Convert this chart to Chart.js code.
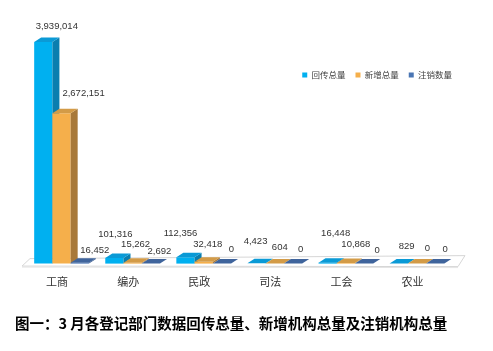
<!DOCTYPE html>
<html>
<head>
<meta charset="utf-8">
<script src="https://cdn.jsdelivr.net/npm/chart.js@4/dist/chart.umd.min.js"></script>
<style>
  html, body { margin: 0; padding: 0; background: #fff; }
</style>
</head>
<body>
<canvas id="chart" width="493" height="351"></canvas>
<script>
// ---------- data ----------
const categories = ['工商', '编办', '民政', '司法', '工会', '农业'];
const seriesNames = ['回传总量', '新增总量', '注销数量'];
const returnedTotal = [3939014, 101316, 112356, 4423, 16448, 829];
const addedTotal = [2672151, 15262, 32418, 604, 10868, 0];
const cancelledTotal = [16452, 2692, 0, 0, 0, 0];
const caption = '图一：3 月各登记部门数据回传总量、新增机构总量及注销机构总量';

// colours: front / top / side of each 3D bar
const faces = [
  { front: '#00B0F0', top: '#0A9AD6', side: '#0A7EAF' },
  { front: '#F5AF4B', top: '#D39B47', side: '#A8793A' },
  { front: '#4A76B4', top: '#3F649C', side: '#2F5288' },
];

// value label nudges (px, relative to bar centre / top)
const labelNudge = [
  [[13.5, -16], [1, -24], [-5, -24], [-1, -22], [8, -29], [8, -17]],
  [[22, -20], [3, -18], [4, -17], [5, -16.5], [10, -19], [10.5, -15]],
  [[15, -12], [8.5, -12], [9.5, -14], [7.5, -14], [13, -13], [10, -14]],
];

const DEPTH_X = 7, DEPTH_Y = -4.5;

function poly(ctx, pts, fill) {
  ctx.beginPath();
  ctx.moveTo(pts[0][0], pts[0][1]);
  for (let k = 1; k < pts.length; k++) ctx.lineTo(pts[k][0], pts[k][1]);
  ctx.closePath();
  ctx.fillStyle = fill;
  ctx.fill();
}

// ---------- 3D bars, floor and value labels ----------
const bars3d = {
  id: 'bars3d',
  beforeDatasetsDraw(chart) {
    const { ctx, chartArea: a } = chart;
    const base = chart.scales.y.getPixelForValue(0);
    ctx.save();

    // floor
    ctx.beginPath();
    ctx.moveTo(a.left - 4, base + 2.5);
    ctx.lineTo(a.right + 5.5, base + 3);
    ctx.lineTo(a.right + 12.5, base - 8);
    ctx.lineTo(a.left + 4, base - 5);
    ctx.closePath();
    ctx.fillStyle = '#ffffff';
    ctx.fill();
    ctx.strokeStyle = '#d6d6d6';
    ctx.lineWidth = 1;
    ctx.stroke();
    ctx.beginPath();
    ctx.moveTo(a.left - 4, base + 3.5);
    ctx.lineTo(a.right + 5.5, base + 4);
    ctx.strokeStyle = '#e4e4e4';
    ctx.stroke();

    categories.forEach((cat, i) => {
      chart.data.datasets.forEach((ds, d) => {
        const el = chart.getDatasetMeta(d).data[i];
        const f = faces[d];
        const x0 = el.x - el.width / 2, x1 = el.x + el.width / 2;
        const top = el.y, bot = el.base;
        if (bot - top > 0.3) poly(ctx, [[x0, top], [x1, top], [x1, bot], [x0, bot]], f.front);
        poly(ctx, [[x1, top], [x1 + DEPTH_X, top + DEPTH_Y], [x1 + DEPTH_X, bot + DEPTH_Y], [x1, bot]], f.side);
        poly(ctx, [[x0, top], [x1, top], [x1 + DEPTH_X, top + DEPTH_Y], [x0 + DEPTH_X, top + DEPTH_Y]], f.top);
      });
    });

    ctx.font = "9.5px 'Liberation Sans'";
    ctx.fillStyle = '#333333';
    ctx.textAlign = 'center';
    ctx.textBaseline = 'middle';
    chart.data.datasets.forEach((ds, d) => {
      chart.getDatasetMeta(d).data.forEach((el, i) => {
        const n = labelNudge[d][i];
        ctx.fillText(Number(ds.data[i]).toLocaleString('en-US'), el.x + n[0], el.y + n[1]);
      });
    });

    ctx.restore();
    return false;
  },
};

new Chart(document.getElementById('chart'), {
  type: 'bar',
  data: {
    labels: categories,
    datasets: [returnedTotal, addedTotal, cancelledTotal].map((vals, d) => ({
      label: seriesNames[d],
      data: vals,
      backgroundColor: faces[d].front,
      borderWidth: 0,
      categoryPercentage: 0.77,
      barPercentage: 1,
    })),
  },
  options: {
    responsive: false,
    animation: false,
    devicePixelRatio: 1,
    layout: { padding: { top: 60.75, left: 15, right: 31, bottom: 0 } },
    plugins: {
      legend: {
        position: 'top',
        align: 'end',
        labels: {
          boxWidth: 5,
          boxHeight: 5,
          padding: 10,
          color: '#404040',
          font: { family: "'Noto Sans CJK SC'", size: 8.5 },
        },
      },
      title: {
        display: true,
        text: caption,
        position: 'bottom',
        align: 'start',
        color: '#000000',
        font: { family: "'Noto Sans CJK SC'", size: 14.5, weight: 'bold' },
        padding: { top: 14.7, bottom: 19.3 },
      },
      tooltip: { enabled: false },
    },
    scales: {
      x: {
        grid: { display: false, drawTicks: false },
        border: { display: false },
        ticks: {
          padding: 11.4,
          labelOffset: -4.5,
          maxRotation: 0,
          autoSkip: false,
          color: '#333333',
          font: { family: "'Noto Sans CJK SC'", size: 11 },
        },
      },
      y: {
        position: 'left',
        min: 0,
        max: 3100000,
        grid: { display: false, drawTicks: false },
        border: { display: false },
        ticks: { display: false },
        afterFit: (s) => { s.width = 11; },
      },
      yr: {
        position: 'right',
        grid: { display: false, drawTicks: false },
        border: { display: false },
        ticks: { display: false },
        afterFit: (s) => { s.width = 9.5; },
      },
    },
  },
  plugins: [bars3d],
});
</script>
</body>
</html>
